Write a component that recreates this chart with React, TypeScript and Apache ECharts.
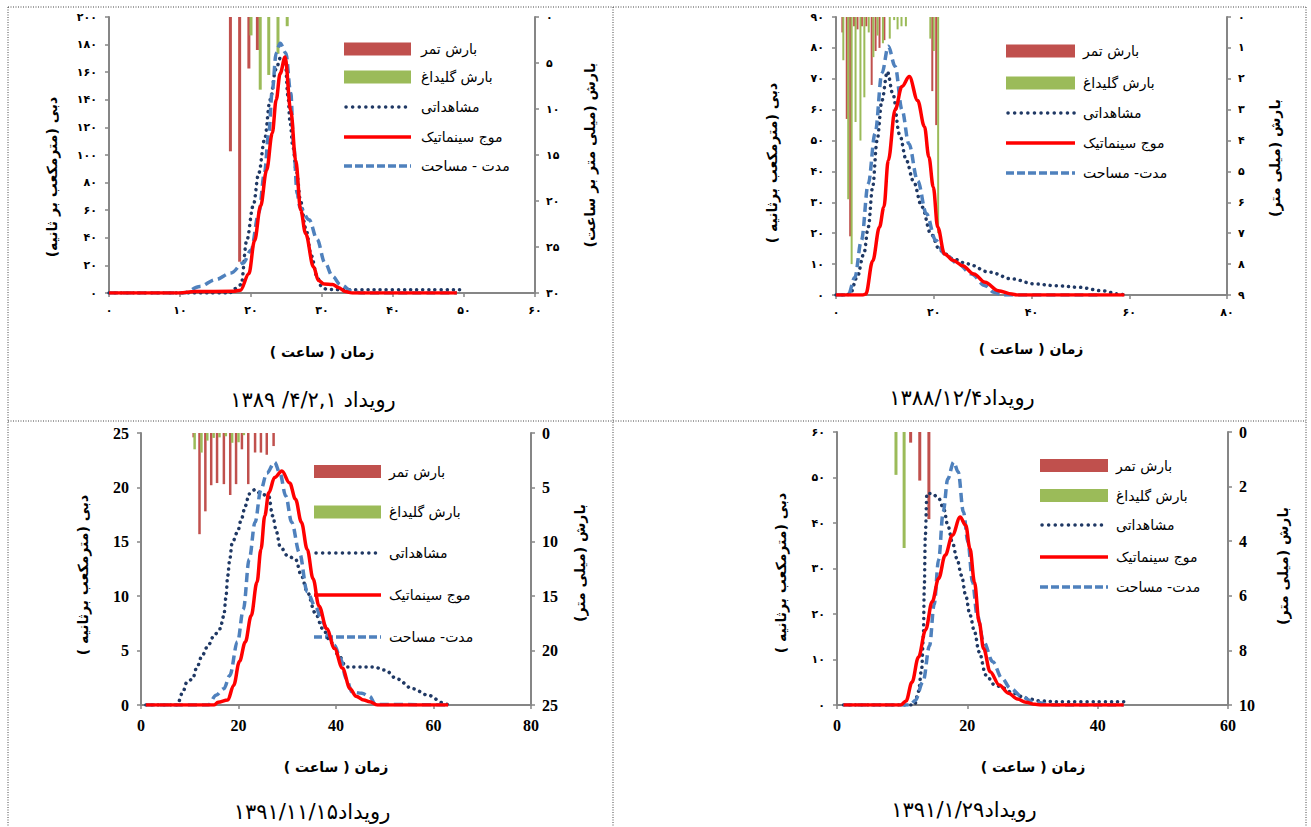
import React, { useEffect, useRef } from 'react';
import * as echarts from 'echarts';

// ---------- DATA ----------
const legendNames = ['بارش تمر', 'بارش گلیداغ', 'مشاهداتی', 'موج سینماتیک'];
const durNames = ['مدت - مساحت', 'مدت- مساحت', 'مدت- مساحت', 'مدت- مساحت'];
const titles = ['۱۳۸۹ /۴/۲,۱ رویداد', '۱۳۸۸/۱۲/۴رویداد', '۱۳۹۱/۱۱/۱۵رویداد', '۱۳۹۱/۱/۲۹رویداد'];
const leftNames = ['دبی (مترمکعب بر ثانیه)', 'دبی (مترمکعب برثانیه )', 'دبی (مترمکعب برثانیه )', 'دبی (مترمکعب برثانیه )'];
const rightNames = ['بارش (میلی متر بر ساعت)', 'بارش (میلی متر)', 'بارش (میلی متر)', 'بارش (میلی متر)'];
const xName = 'زمان ( ساعت )';

// Panel 1 : 1389/4/2,1
const p1RainTamar = [[17.1, 14.6], [18.4, 26.6], [19.7, 5.6], [20.9, 3.6]];
const p1RainGelidagh = [[20.0, 2.0], [21.3, 7.9], [22.5, 6.3], [23.8, 4.0], [25.1, 1.0]];
const p1Observed = [[0, 0], [17, 0], [17.6, 3], [18.6, 6], [19.4, 38], [20.3, 63], [21.1, 87], [21.9, 111], [22.7, 140], [23.5, 162], [24.2, 171], [24.8, 170], [25.2, 143], [25.5, 124], [25.9, 106], [26.4, 88], [27, 66], [27.7, 47], [28.5, 27], [29.3, 12], [29.9, 5], [30.7, 2.5], [35, 2.3], [40, 2.3], [45, 2.3], [50, 2.3]];
const p1Kinematic = [[0, 0], [10, 0], [12, 1], [17.5, 1.2], [18.5, 2], [19.7, 14], [20.5, 38], [21.35, 63], [22.2, 89], [23, 116], [23.55, 140], [24.1, 159], [24.8, 171], [25.6, 132], [26.3, 96], [27, 60], [27.7, 43], [28.8, 19], [29.5, 9], [30.3, 6.5], [31.5, 6.2], [32.3, 4], [33.3, 1], [34.3, 0], [49, 0]];
const p1DurArea = [[0, 0], [10.5, 0], [12.8, 4.8], [15, 9.7], [17.2, 14.5], [18.9, 21.7], [20, 31], [21.1, 58], [21.9, 87], [22.5, 116], [23, 147], [23.55, 174], [24.1, 181], [24.9, 174], [25.6, 145], [26, 108], [26.5, 72], [26.9, 62], [28.2, 53], [29.3, 39], [30.4, 22], [31.5, 12], [32.6, 6], [34.3, 1.2], [35.5, 0], [49, 0]];

// Panel 2 : 1388/12/4
const p2RainTamar = [[1.3, 0.5], [2.2, 3.3], [2.9, 7.1], [3.7, 0.3], [4.4, 0.4], [5.3, 0.3], [6.2, 0.3], [7.3, 2.2], [8.1, 1.1], [8.9, 1.0], [9.9, 0.75], [19.7, 2.4], [20.5, 3.5]];
const p2RainGelidagh = [[1.5, 1.4], [2.5, 5.9], [3.2, 8.0], [4.0, 3.4], [5.0, 4.0], [5.8, 2.6], [6.7, 0.5], [7.65, 1.3], [8.5, 0.6], [9.6, 0.85], [11.0, 0.7], [11.9, 0.1], [12.6, 0.4], [13.4, 0.3], [14.3, 0.3], [19.3, 0.7], [20.0, 1.1], [20.9, 7.0]];
const p2Observed = [[0, 0], [2, 0], [2.9, 0.3], [4.3, 5.7], [5.7, 13.3], [6.6, 22], [7.5, 35], [8.4, 50], [9.4, 63], [10.5, 72.3], [11.65, 65], [13, 52], [14.4, 43.6], [15.8, 37], [17.6, 28.5], [19.4, 19.8], [21.3, 14.4], [24, 11.7], [26.8, 10.1], [31.4, 7.4], [36, 5.2], [40.6, 3.6], [45.1, 3], [49.7, 2.5], [54.3, 1.4], [58, 0.3], [59, 0]];
const p2Kinematic = [[0, 0], [5.5, 0], [6.1, 0.3], [7.5, 11], [8.9, 22], [9.8, 28.5], [10.7, 43.6], [12.1, 60], [13.5, 67.5], [15, 70.7], [16.7, 63], [18.1, 54.5], [19, 44.7], [19.9, 35], [20.8, 22], [22.2, 13.3], [24, 11.2], [25.9, 9.5], [28.2, 6.8], [30.5, 4.1], [33.2, 1.4], [36, 0.3], [37, 0], [59, 0]];
const p2DurArea = [[0, 0], [2.5, 0], [3.85, 5.7], [5.2, 17.7], [6.6, 36], [8, 52.3], [9.4, 71.8], [10.7, 80.5], [12.1, 74], [13.5, 60], [14.9, 49], [16.7, 37], [18.5, 26.3], [20.4, 17.7], [22.2, 13.3], [25, 10.1], [27.7, 6.8], [30.5, 3], [32.3, 0.9], [34.1, 0], [54, 0]];

// Panel 3 : 1391/11/15
const p3RainTamar = [[10.8, 0.4], [12, 9.3], [13.2, 7.2], [14.4, 4.8], [15.6, 4.6], [17, 4.7], [18.3, 5.7], [19.5, 4.7], [20.7, 1.5], [22, 4.7], [23.4, 1.8], [24.6, 1.8], [25.8, 2.0], [27.2, 1.2]];
const p3RainGelidagh = [[11, 1.5], [12.4, 1.8], [13.6, 0.7], [14.9, 0.45], [16.1, 0.4], [17.4, 0.3], [18.7, 0.9], [20, 0.85], [21.1, 0.2]];
const p3Observed = [[1, 0], [7.4, 0], [8.6, 1.2], [9.4, 2.1], [10.6, 2.4], [11.4, 3.4], [12.6, 4.6], [13.8, 5.5], [15, 6.4], [16.2, 7], [17, 8.2], [17.4, 9.8], [17.8, 11.9], [18.2, 13.4], [18.7, 14.9], [19.8, 15.9], [20.6, 17.1], [21.4, 18.3], [22.2, 19.4], [23.4, 19.8], [24.6, 19.4], [26.2, 19.2], [27, 17.4], [27.8, 15.9], [28.5, 14.6], [30.1, 13.7], [31.7, 13.4], [32.9, 11.9], [34.1, 10.4], [35.7, 8.5], [37.3, 7], [38.9, 5.8], [40.5, 4.6], [42.1, 3.5], [44.5, 3.5], [47.7, 3.5], [50.1, 3.2], [52.5, 2.4], [55.7, 1.5], [58.9, 0.9], [62, 0.2], [63, 0]];
const p3Kinematic = [[1, 0], [15, 0], [15.8, 0.25], [17.8, 0.45], [19, 1.8], [20.2, 4], [21.4, 5.8], [22.6, 8.2], [23.8, 11.3], [24.6, 14.3], [25.4, 17.4], [26.2, 19.5], [27.4, 20.9], [28.9, 21.5], [30.5, 20.4], [31.7, 18.9], [32.9, 16.8], [34.1, 14.3], [35.3, 11.6], [36.5, 9.1], [38.1, 7], [39.7, 5.2], [41.3, 3.4], [42.9, 1.5], [44.1, 0.8], [45.7, 0.45], [46.9, 0.3], [48.5, 0], [63, 0]];
const p3DurArea = [[1, 0], [13.8, 0], [15.4, 0.9], [17, 1.5], [18.2, 2.7], [19.8, 5.8], [21, 8.8], [22.2, 13.4], [23.4, 16.8], [24.6, 19.8], [25.8, 21.3], [27.4, 22.3], [28.5, 21.3], [29.7, 19.2], [30.9, 16.8], [32.5, 14], [34.1, 10.4], [35.7, 9.1], [37.3, 7.6], [38.5, 6.4], [39.7, 5.5], [40.9, 4.3], [42.1, 2.4], [43.3, 1.2], [45.3, 1.07], [46.9, 0.8], [48.1, 0.05], [63, 0]];

// Panel 4 : 1391/1/29
const p4RainTamar = [[11.3, 0.39], [12.7, 1.78], [14.1, 3.19]];
const p4RainGelidagh = [[9.05, 1.57], [10.3, 4.25]];
const p4Observed = [[1, 0], [11.9, 0], [12.5, 3], [13, 8], [13.25, 15], [13.4, 26], [13.55, 37], [13.8, 46.5], [14.6, 46.5], [15.6, 45.4], [16.4, 43], [17, 39.5], [17.7, 35.8], [18.4, 32.2], [19.1, 28.5], [19.75, 24.1], [20.4, 19.8], [21.1, 16.1], [21.8, 11.7], [22.85, 6.6], [24.2, 4.4], [25.6, 3.7], [27, 2.6], [29, 1.5], [31.1, 0.9], [33.9, 0.7], [44, 0.7]];
const p4Kinematic = [[1, 0], [9.8, 0], [10.6, 0.9], [11.5, 5], [12.5, 10.5], [13.6, 16.5], [14.6, 22.7], [15.6, 27.8], [16.6, 32.9], [17.7, 37.3], [18.9, 41.3], [19.75, 39.5], [20.4, 34.4], [21.1, 27], [21.8, 18.3], [22.5, 12.4], [23.5, 7.3], [24.9, 4.4], [26.3, 2.6], [27.7, 1.3], [29, 0.6], [30.4, 0.15], [31.5, 0], [44, 0]];
const p4DurArea = [[1, 0], [11.2, 0], [12, 1], [13.2, 5.1], [14.2, 13], [14.9, 22], [15.6, 32], [16.3, 42.5], [17, 49.7], [17.9, 53.4], [18.6, 51.2], [19.4, 42.4], [20.1, 35.8], [20.8, 27], [21.5, 19.8], [22.5, 13.9], [23.9, 9.5], [25.3, 5.9], [26.6, 3.7], [28.4, 1.8], [30.1, 0.7], [32.5, 0.15], [33.5, 0], [44, 0]];

// axis scales: [max, interval]
const xScales = [[60, 10], [80, 20], [80, 20], [60, 20]];
const leftScales = [[200, 20], [90, 10], [25, 5], [60, 10]];
const rightScales = [[30, 5], [9, 1], [25, 5], [10, 2]];
// digit style per axis: true = Persian digits
const faX = [true, true, false, false];
const faLeft = [true, true, false, true];
const faRight = [true, true, false, false];

// ---------- LAYOUT / STYLE ----------
const FA_DIGITS = '۰۱۲۳۴۵۶۷۸۹';
const toFa = (v: any) => String(v).replace(/\d/g, (d) => FA_DIGITS[+d]);
const rtl = (s: string) => '\u202B' + s + '\u202C';

const FONT_FA = '"DejaVu Sans"';
const FONT_LAT = '"Liberation Serif", "Times New Roman", serif';
const AXIS_COLOR = '#868686';
const C_TAMAR = '#C0504D';
const C_GEL = '#9BBB59';
const C_OBS = '#1F3864';
const C_KIN = '#FF0000';
const C_DUR = '#4F81BD';

const grids = [
  { left: 109, top: 17, width: 426, height: 276 },
  { left: 836, top: 17, width: 391, height: 278 },
  { left: 141, top: 433, width: 390, height: 272 },
  { left: 837, top: 432, width: 391, height: 273 },
];
const barWidths = [3, 2, 2.5, 3];
const leftNamePos = [[52, 177], [772, 163], [83, 575], [781, 573]];
const rightNamePos = [[590, 155], [1275, 158], [580, 563], [1283, 566]];
const xNamePos = [[322, 352], [1031, 349], [336, 767], [1033, 767]];
const titlePos = [[313, 400], [962, 398], [312, 812], [964, 810]];
const legendLayout = [
  { x1: 344, x2: 411, tx: 421, ys: [49, 77, 107, 137, 166] },
  { x1: 1006, x2: 1075, tx: 1083, ys: [51, 83, 113, 143, 173] },
  { x1: 314, x2: 381, tx: 389, ys: [471.5, 512, 553, 595, 637] },
  { x1: 1040, x2: 1108, tx: 1116, ys: [465.5, 495.5, 525, 557, 587] },
];

const rains = [
  [p1RainTamar, p1RainGelidagh],
  [p2RainTamar, p2RainGelidagh],
  [p3RainTamar, p3RainGelidagh],
  [p4RainTamar, p4RainGelidagh],
];
const flows = [
  [p1Observed, p1DurArea, p1Kinematic],
  [p2Observed, p2DurArea, p2Kinematic],
  [p3Observed, p3DurArea, p3Kinematic],
  [p4Observed, p4DurArea, p4Kinematic],
];

function labelStyle(fa: boolean, margin: number) {
  return fa
    ? { fontFamily: FONT_FA, fontWeight: 'bold', fontSize: 11, color: '#000', margin, formatter: (v: number) => toFa(v) }
    : { fontFamily: FONT_LAT, fontWeight: 'bold', fontSize: 16, color: '#000', margin };
}

function buildOption() {
  const xAxis: any[] = [];
  const yAxis: any[] = [];
  const series: any[] = [];
  const graphic: any[] = [];

  const axisLine = { show: true, onZero: false, lineStyle: { color: AXIS_COLOR, width: 2 } };
  const axisTick = { show: true, inside: false, length: 4, lineStyle: { color: AXIS_COLOR, width: 1.5 } };

  for (let i = 0; i < 4; i++) {
    xAxis.push({
      type: 'value', gridIndex: i, min: 0, max: xScales[i][0], interval: xScales[i][1],
      axisLine, axisTick, splitLine: { show: false }, axisLabel: labelStyle(faX[i], 12),
    });
    yAxis.push({
      type: 'value', gridIndex: i, position: 'left', min: 0, max: leftScales[i][0], interval: leftScales[i][1],
      axisLine, axisTick, splitLine: { show: false }, axisLabel: labelStyle(faLeft[i], 12),
    });
    yAxis.push({
      type: 'value', gridIndex: i, position: 'right', inverse: true, min: 0, max: rightScales[i][0], interval: rightScales[i][1],
      axisLine, axisTick, splitLine: { show: false }, axisLabel: labelStyle(faRight[i], 11),
    });

    const [tamar, gel] = rains[i];
    series.push({
      type: 'bar', name: legendNames[0], xAxisIndex: i, yAxisIndex: 2 * i + 1, data: tamar,
      barWidth: barWidths[i], barGap: '-100%', itemStyle: { color: C_TAMAR },
    });
    series.push({
      type: 'bar', name: legendNames[1], xAxisIndex: i, yAxisIndex: 2 * i + 1, data: gel,
      barWidth: barWidths[i], barGap: '-100%', itemStyle: { color: C_GEL },
    });
    const [obs, dur, kin] = flows[i];
    const common = { type: 'line', xAxisIndex: i, yAxisIndex: 2 * i, showSymbol: false, symbol: 'none', smooth: 0.35, smoothMonotone: 'x' };
    series.push({ ...common, name: legendNames[2], data: obs, itemStyle: { color: C_OBS }, lineStyle: { color: C_OBS, width: 3.5, type: [0.1, 6], cap: 'round' } });
    series.push({ ...common, name: durNames[i], data: dur, itemStyle: { color: C_DUR }, lineStyle: { color: C_DUR, width: 3.5, type: [9, 5] } });
    series.push({ ...common, name: legendNames[3], data: kin, itemStyle: { color: C_KIN }, lineStyle: { color: C_KIN, width: 3.5 } });

    // axis names
    graphic.push({
      type: 'text', x: leftNamePos[i][0], y: leftNamePos[i][1], rotation: Math.PI / 2,
      style: { text: rtl(leftNames[i]), font: `bold 14px ${FONT_FA}`, fill: '#000', textAlign: 'center', textVerticalAlign: 'middle' },
    });
    graphic.push({
      type: 'text', x: rightNamePos[i][0], y: rightNamePos[i][1], rotation: Math.PI / 2,
      style: { text: rtl(rightNames[i]), font: `bold 14px ${FONT_FA}`, fill: '#000', textAlign: 'center', textVerticalAlign: 'middle' },
    });
    graphic.push({
      type: 'text', x: xNamePos[i][0], y: xNamePos[i][1],
      style: { text: rtl(xName), font: `bold 14px ${FONT_FA}`, fill: '#000', textAlign: 'center', textVerticalAlign: 'middle' },
    });
    graphic.push({
      type: 'text', x: titlePos[i][0], y: titlePos[i][1],
      style: { text: titles[i], font: `21px ${FONT_FA}`, fill: '#000', textAlign: 'center', textVerticalAlign: 'middle' },
    });

    // legend
    const L = legendLayout[i];
    const names = [legendNames[0], legendNames[1], legendNames[2], legendNames[3], durNames[i]];
    graphic.push({ type: 'rect', shape: { x: L.x1, y: L.ys[0] - 6.5, width: L.x2 - L.x1, height: 13 }, style: { fill: C_TAMAR } });
    graphic.push({ type: 'rect', shape: { x: L.x1, y: L.ys[1] - 6.5, width: L.x2 - L.x1, height: 13 }, style: { fill: C_GEL } });
    graphic.push({ type: 'line', shape: { x1: L.x1 + 2, y1: L.ys[2], x2: L.x2, y2: L.ys[2] }, style: { stroke: C_OBS, lineWidth: 3.5, lineDash: [0.1, 6.5], lineCap: 'round' } });
    graphic.push({ type: 'line', shape: { x1: L.x1, y1: L.ys[3], x2: L.x2, y2: L.ys[3] }, style: { stroke: C_KIN, lineWidth: 3.5 } });
    graphic.push({ type: 'line', shape: { x1: L.x1, y1: L.ys[4], x2: L.x2, y2: L.ys[4] }, style: { stroke: C_DUR, lineWidth: 3.5, lineDash: [8, 3] } });
    names.forEach((n, k) => {
      graphic.push({
        type: 'text', x: L.tx, y: L.ys[k],
        style: { text: n, font: `14px ${FONT_FA}`, fill: '#000', textAlign: 'left', textVerticalAlign: 'middle' },
      });
    });
  }

  // dotted panel borders
  const border = { stroke: '#444', lineWidth: 1, lineDash: [1, 1.5] };
  const lines = [
    [8, 7, 1306, 7], [8, 7, 8, 827], [613, 7, 613, 827], [1306, 7, 1306, 827], [8, 421, 1306, 421],
  ];
  lines.forEach(([x1, y1, x2, y2]) => graphic.push({ type: 'line', shape: { x1, y1, x2, y2 }, style: border, silent: true }));

  return {
    animation: false,
    backgroundColor: '#fff',
    grid: grids.map((g) => ({ ...g, containLabel: false })),
    xAxis, yAxis, series, graphic,
  };
}

export default function App() {
  const ref = useRef<HTMLDivElement>(null);
  useEffect(() => {
    document.body.style.margin = '0';
    if (!ref.current) return;
    const chart = echarts.init(ref.current, undefined, { renderer: 'svg' });
    chart.setOption(buildOption() as any);
    return () => chart.dispose();
  }, []);
  return <div ref={ref} style={{ position: 'absolute', left: 0, top: 0, width: 1311, height: 827 }} />;
}
